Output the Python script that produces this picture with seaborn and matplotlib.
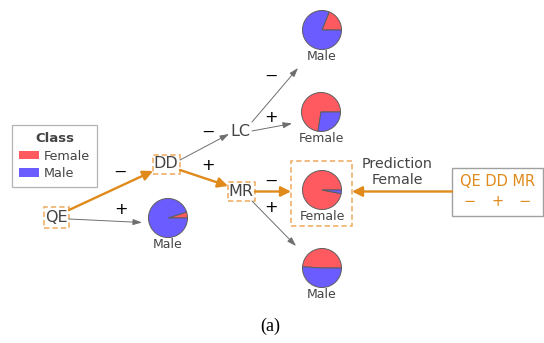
import matplotlib
matplotlib.use("Agg")
import matplotlib.pyplot as plt
from matplotlib.patches import Rectangle, Patch
import seaborn as sns

# ---- data -------------------------------------------------------------
classes = ["Female", "Male"]
leaf_ids = ["LC-", "LC+", "MR-", "MR+", "QE+"]
leaf_female = [0.19, 0.725, 0.97, 0.49, 0.05]
leaf_male = [0.81, 0.275, 0.03, 0.51, 0.95]
leaf_labels = ["Male", "Female", "Female", "Male", "Male"]
split_nodes = ["QE", "DD", "LC", "MR"]
query_features = ["QE", "DD", "MR"]
query_values = ["\u2212", "+", "\u2212"]
prediction = "Female"

# ---- layout (canvas pixels, y measured downward) ----------------------
W, H = 544, 343
node_xy = {"QE": (56, 217), "DD": (166, 163), "LC": (240, 131), "MR": (241, 191)}
node_boxes = {"QE": (44, 207, 25, 21), "DD": (153, 155, 27, 19), "MR": (228, 182, 27, 19)}
leaf_xy = {"LC-": (322, 30), "LC+": (321, 112), "MR-": (322, 190), "MR+": (322, 268), "QE+": (168, 218)}
pie_r = 19.5
# (start, end, sign, sign position, on decision path)
edges = [
    ((69, 210), (153, 171), "\u2212", (120, 172), True),
    ((69, 219), (142, 222.5), "+", (121, 210), False),
    ((180, 160), (229, 134), "\u2212", (208, 132), False),
    ((180, 170), (228, 186), "+", (208, 166), True),
    ((252, 122), (298, 68), "\u2212", (271, 76), False),
    ((252, 131), (292, 123.5), "+", (271, 117), False),
    ((255, 191.5), (291, 191.5), "\u2212", (271, 181), True),
    ((252, 201), (296, 246), "+", (271, 208), False),
]

sns.set_theme(style="white")
plt.rcParams["font.family"] = ["DejaVu Sans"]
female_c, male_c = "#ff5a5f", "#6a5cff"
palette = sns.color_palette([female_c, male_c])
orange = "#e08a1c"
dash_orange = "#eeaa5c"
txt = "#444444"


def P(x, y):
    return x, H - y


fig = plt.figure(figsize=(W / 100, H / 100), dpi=100)
ax = fig.add_axes([0, 0, 1, 1])

# leaf pies
for lid, f, m, lab in zip(leaf_ids, leaf_female, leaf_male, leaf_labels):
    cx, cy = leaf_xy[lid]
    ax.pie([f, m], colors=palette, center=P(cx, cy), radius=pie_r,
           startangle=0, counterclock=True,
           wedgeprops=dict(edgecolor="#5e5e5e", linewidth=0.7))
    ax.text(*P(cx, cy + pie_r + 7.5), lab, ha="center", va="center",
            fontsize=9, color=txt)

# split node labels and dashed boxes on the decision path
for n in split_nodes:
    ax.text(*P(*node_xy[n]), n, ha="center", va="center", fontsize=11.5, color=txt)
for n, (bx, by, bw, bh) in node_boxes.items():
    ax.add_patch(Rectangle(P(bx, by + bh), bw, bh, fill=False, edgecolor=dash_orange,
                           linewidth=1.1, linestyle=(0, (3.5, 2))))
ax.add_patch(Rectangle(P(291, 226), 61, 65, fill=False, edgecolor=dash_orange,
                       linewidth=1.1, linestyle=(0, (3.5, 2))))

# edges
for (s, e, sign, spos, on_path) in edges:
    if on_path:
        props = dict(arrowstyle="-|>,head_length=0.5,head_width=0.25", color=orange,
                     lw=1.7, shrinkA=0, shrinkB=0)
    else:
        props = dict(arrowstyle="-|>,head_length=0.45,head_width=0.15", color="#6e6e6e",
                     lw=0.7, shrinkA=0, shrinkB=0)
    ax.annotate("", xy=P(*e), xytext=P(*s), arrowprops=props)
    ax.text(*P(*spos), sign, ha="center", va="center", fontsize=11.5, color="black")

# query box and prediction arrow
ax.add_patch(Rectangle(P(452, 216), 91, 48, fill=False, edgecolor="#a0a0a0", linewidth=1.0))
ax.text(*P(497.5, 182), " ".join(query_features), ha="center", va="center",
        fontsize=10.5, color=orange)
for xv, v in zip([470, 497.5, 525], query_values):
    ax.text(*P(xv, 201), v, ha="center", va="center", fontsize=10.5, color=orange)
ax.annotate("", xy=P(352, 191.5), xytext=P(452, 191.5),
            arrowprops=dict(arrowstyle="-|>,head_length=0.5,head_width=0.25",
                            color=orange, lw=1.7, shrinkA=0, shrinkB=0))
ax.text(*P(397, 172), "Prediction\n" + prediction, ha="center", va="center",
        fontsize=10.3, color=txt, linespacing=1.1)

# class legend
handles = [Patch(facecolor=c, edgecolor="none") for c in palette]
leg = ax.legend(handles, classes, title="Class", loc="upper left",
                bbox_to_anchor=(12 / W, 1 - 125 / H), fontsize=9.2,
                title_fontproperties=dict(weight="bold", size=9.5),
                frameon=True, fancybox=False, edgecolor="#a0a0a0",
                handlelength=1.6, handleheight=0.65, handletextpad=0.35,
                borderpad=0.55, labelspacing=0.35, borderaxespad=0)
leg.get_frame().set_linewidth(0.9)
for t in leg.get_texts():
    t.set_color(txt)
leg.get_title().set_color(txt)

ax.text(*P(270, 326), "(a)", ha="center", va="center", fontsize=13,
        family="Liberation Serif", color="black")

ax.set_xlim(0, W)
ax.set_ylim(0, H)
ax.set_aspect("equal")
ax.axis("off")
fig.savefig("out.png", dpi=100)
